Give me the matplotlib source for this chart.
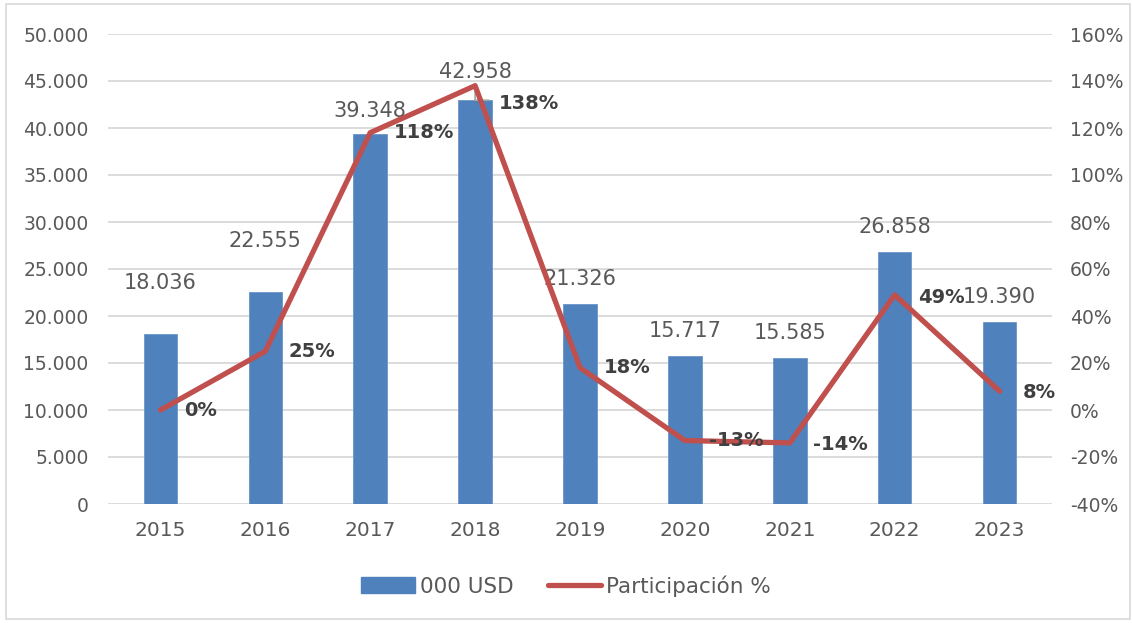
import matplotlib
matplotlib.use("Agg")
import matplotlib.pyplot as plt
from matplotlib.patches import Rectangle, Patch
from matplotlib.lines import Line2D

years = ["2015", "2016", "2017", "2018", "2019", "2020", "2021", "2022", "2023"]
usd_thousands = [18036, 22555, 39348, 42958, 21326, 15717, 15585, 26858, 19390]
participation_pct = [0, 25, 118, 138, 18, -13, -14, 49, 8]

left_ticks = list(range(0, 50001, 5000))
right_ticks = list(range(-40, 161, 20))

BAR_COLOR = "#4F81BD"
LINE_COLOR = "#C0504D"
TEXT_COLOR = "#595959"
BOLD_COLOR = "#404040"
GRID_COLOR = "#D9D9D9"

plt.rcParams["font.family"] = ["DejaVu Sans"]

fig = plt.figure(figsize=(11.32, 6.23), dpi=100)
ax = fig.add_axes([108 / 1132, 1 - 504 / 623, 944 / 1132, 470 / 623])
ax2 = ax.twinx()

x = list(range(len(years)))

# bars on the primary axis
ax.bar(x, usd_thousands, width=0.32, color=BAR_COLOR, edgecolor="#6C95C8",
       linewidth=0.6, zorder=2)
ax.set_ylim(0, 50000)
ax.set_xlim(-0.5, len(years) - 0.5)
ax.set_yticks(left_ticks)
ax.set_yticklabels([f"{v:,}".replace(",", ".") for v in left_ticks])
ax.set_xticks(x)
ax.set_xticklabels(years)
ax.grid(axis="y", color=GRID_COLOR, linewidth=1.3, zorder=0)
ax.set_axisbelow(True)
for s in ax.spines.values():
    s.set_visible(False)
for s in ax2.spines.values():
    s.set_visible(False)
ax.tick_params(axis="y", length=0, labelsize=13.5, colors=TEXT_COLOR, pad=14)
ax.tick_params(axis="x", length=0, labelsize=14.5, colors=TEXT_COLOR, pad=12)

# line on the secondary axis
ax2.plot(x, participation_pct, color=LINE_COLOR, linewidth=3.8,
         solid_capstyle="round", solid_joinstyle="round", zorder=3)
ax2.set_ylim(-40, 160)
ax2.set_yticks(right_ticks)
ax2.set_yticklabels([f"{v}%" for v in right_ticks])
ax2.tick_params(axis="y", length=0, labelsize=13.5, colors=TEXT_COLOR, pad=13)

# value labels above bars (points above the bar top)
bar_label_offsets = [37, 37, 17, 20, 18, 18, 18, 18, 18]
for xi, v, off in zip(x, usd_thousands, bar_label_offsets):
    ax.annotate(f"{v:,}".replace(",", "."), (xi, v), xytext=(0, off),
                textcoords="offset points", ha="center", va="center",
                fontsize=15, color=TEXT_COLOR, zorder=5)

# leader line for the 2018 label
ax.annotate("", xy=(3, usd_thousands[3]), xytext=(0, 12), textcoords="offset points",
            arrowprops=dict(arrowstyle="-", color="#A6A6A6", lw=1.2,
                            shrinkA=0, shrinkB=0))
ax.annotate("", xy=(3, usd_thousands[3]), xytext=(10, 0), textcoords="offset points",
            arrowprops=dict(arrowstyle="-", color="#A6A6A6", lw=1.2,
                            shrinkA=0, shrinkB=0))

# percentage labels to the right of each point
pct_label_dy = [0, 0, 0, -13, 0, 0, -1, -2, -1]
for xi, p, dy in zip(x, participation_pct, pct_label_dy):
    ax2.annotate(f"{p}%", (xi, p), xytext=(17, dy), textcoords="offset points",
                 ha="left", va="center", fontsize=14, fontweight="bold",
                 color=BOLD_COLOR, zorder=6)

# legend below the plot
handles = [Patch(facecolor=BAR_COLOR, edgecolor=BAR_COLOR),
           Line2D([0], [0], color=LINE_COLOR, linewidth=3.8, solid_capstyle="round")]
leg = fig.legend(handles, ["000 USD", "Participación %"], loc="center",
                 bbox_to_anchor=(0.5, 1 - 586 / 623), ncol=2, frameon=False,
                 fontsize=15.5, handlelength=2.5, handleheight=0.75,
                 columnspacing=1.6, handletextpad=0.2)
for t in leg.get_texts():
    t.set_color(TEXT_COLOR)

# chart area border
fig.patches.append(Rectangle((6 / 1132, 4 / 623), 1 - 8 / 1132, 1 - 8 / 623,
                             transform=fig.transFigure, fill=False,
                             edgecolor=GRID_COLOR, linewidth=1.2))

fig.savefig("out.png", dpi=100)
